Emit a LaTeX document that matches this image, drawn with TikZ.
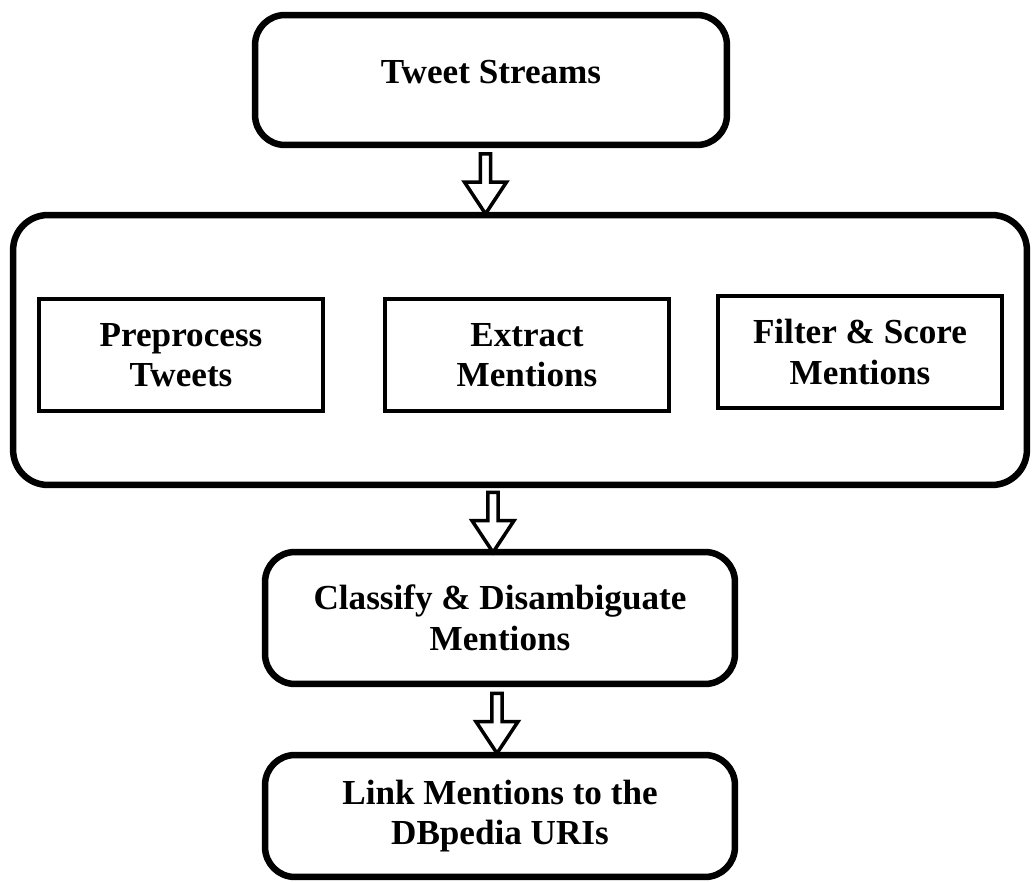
\documentclass[tikz,border=0pt]{standalone}
\usepackage{fontspec}
\setmainfont{Liberation Serif}
\usetikzlibrary{shapes.arrows,calc}

\tikzset{
  boxtext/.style={align=center, font=\bfseries\fontsize{20}{23}\selectfont},
  outerbox/.style={draw, boxtext, line width=3.7pt, rounded corners=0.6cm},
  innerbox/.style={draw, boxtext, line width=2.6pt, minimum width=5.68cm, minimum height=2.24cm},
  blockarrow/.style={draw, line width=2pt, single arrow, single arrow head indent=0pt,
    single arrow head extend=0.11cm, single arrow tip angle=67, minimum width=0.84cm,
    minimum height=1.2cm, inner sep=0pt, rotate=-90}
}

\begin{document}
\begin{tikzpicture}[x=0.02cm,y=-0.02cm]
\useasboundingbox (0,0) rectangle (1035,882);

\node[outerbox, minimum width=9.44cm, minimum height=2.6cm] (streams) at (491,80) {\raisebox{9pt}{Tweet Streams}};
\node[outerbox, minimum width=20.28cm, minimum height=5.4cm, rounded corners=0.7cm] (main) at (520,350) {};

\node[innerbox] (preprocess) at (181,355) {Preprocess\\Tweets};
\node[innerbox] (extract) at (527,355) {Extract\\Mentions};
\node[innerbox] (filter) at (860,352) {Filter \& Score\\Mentions};

\node[outerbox, minimum width=9.4cm, minimum height=2.64cm] (classify) at (500,618) {Classify \& Disambiguate\\Mentions};
\node[outerbox, minimum width=9.4cm, minimum height=2.44cm] (link) at (500,816) {Link Mentions to the\\DBpedia URIs};

% hollow arrows between the stages
\node[blockarrow] (arrowA) at ($(streams.south)!0.5!(main.north)+(-20,0)$) {};
\node[blockarrow] (arrowB) at ($(main.south)!0.5!(classify.north)+(-17,0)$) {};
\node[blockarrow] (arrowC) at ($(classify.south)!0.5!(link.north)+(-3,0)$) {};
\end{tikzpicture}
\end{document}
